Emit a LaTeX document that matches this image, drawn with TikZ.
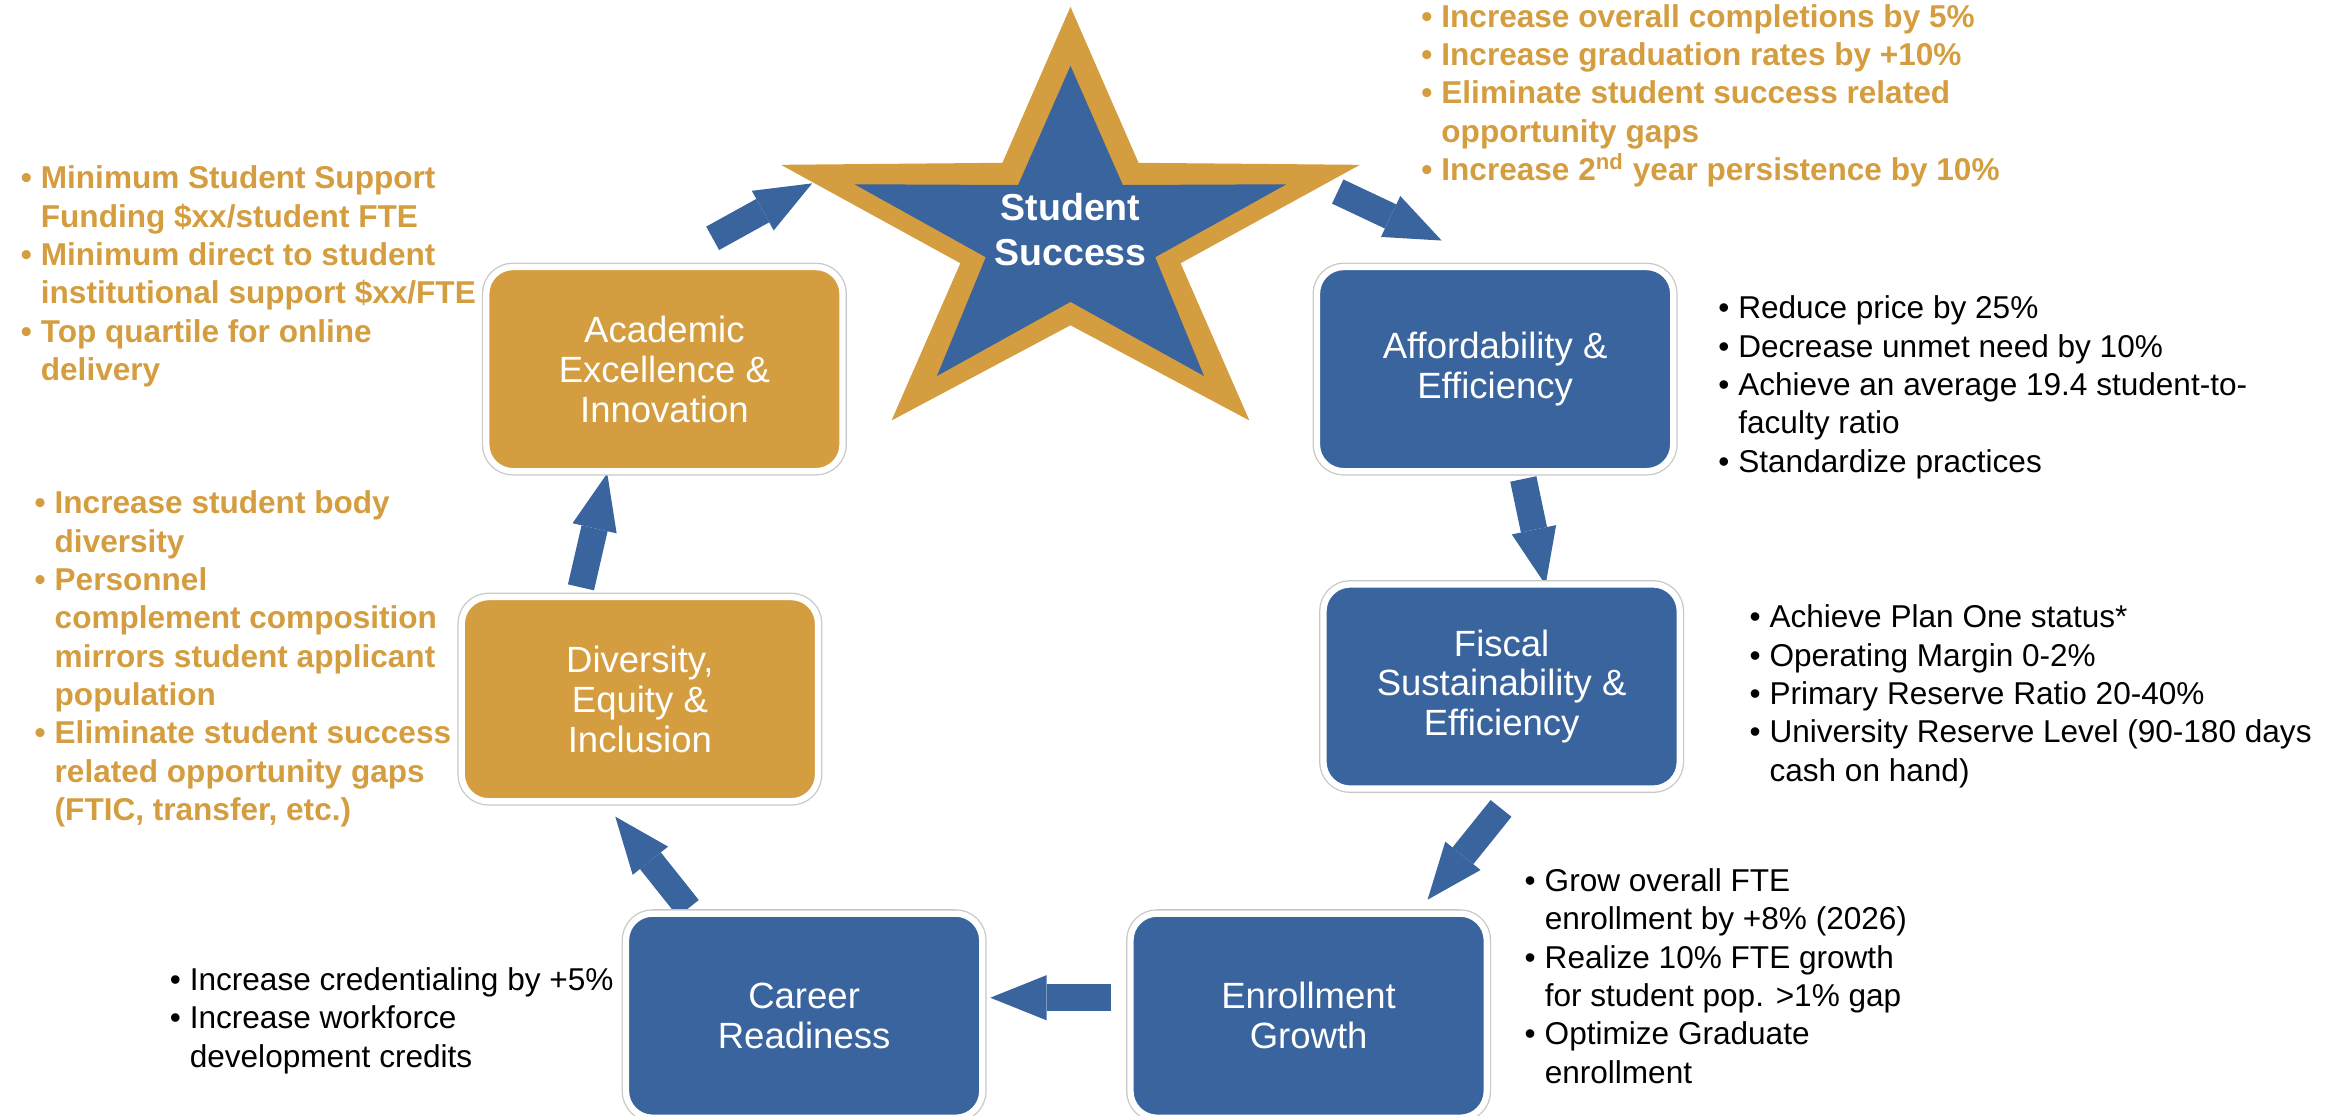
\documentclass[tikz,border=0pt]{standalone}
\usepackage{fontspec}
\setmainfont{Liberation Sans}
\usetikzlibrary{arrows.meta,calc,positioning}
\definecolor{blue-color}{RGB}{58,100,158}
\definecolor{gold-color}{RGB}{212,157,64}
\definecolor{edge-color}{RGB}{200,200,200}
\newcommand\itm{\makebox[0.27cm][l]{\textbullet}}
\newcommand\cnt{\hspace*{0.27cm}}
\tikzset{
  pillar/.style={rectangle, rounded corners=0.36cm, minimum width=4.8cm,
    minimum height=2.75cm, draw=white, line width=2.4pt,
    preaction={draw=edge-color, line width=3.4pt}, text=white, align=center,
    font=\fontsize{14}{15.3}\selectfont},
  bluebox/.style={pillar, fill=blue-color},
  goldbox/.style={pillar, fill=gold-color},
  goals/.style={anchor=north west, inner sep=0, align=left,
    font=\fontsize{12.1}{14.7}\selectfont},
  goldgoals/.style={goals, text=gold-color, font=\fontsize{12.1}{14.7}\selectfont\bfseries}
}

\begin{document}
\begin{tikzpicture}[x=0.02cm, y=-0.02cm,
    flow/.style={draw=blue-color, line width=0.36cm,
      -{Triangle[length=0.76cm, width=0.61cm, line width=0pt]}}]
  \useasboundingbox (0,0) rectangle (1568,751);
  \coordinate (from-acad) at (480,160.5);   \coordinate (to-ss) at (547,123.5);
  \coordinate (from-ss) at (901,129);       \coordinate (to-aff) at (971,162);
  \coordinate (from-aff) at (1026,322.6);   \coordinate (to-fis) at (1041,394);
  \coordinate (from-fis) at (1011,544.5);   \coordinate (to-enr) at (961.5,606);
  \coordinate (from-enr) at (748,672);      \coordinate (to-car) at (667,672);
  \coordinate (from-car) at (463.6,611.8);  \coordinate (to-div) at (414.4,550);
  \coordinate (from-div) at (391.3,395.6);  \coordinate (to-acad) at (409,318.8);
  \draw[flow] (from-acad) -- (to-ss);
  \draw[flow] (from-ss) -- (to-aff);
  \draw[flow] (from-aff) -- (to-fis);
  \draw[flow] (from-fis) -- (to-enr);
  \draw[flow] (from-enr) -- (to-car);
  \draw[flow] (from-car) -- (to-div);
  \draw[flow] (from-div) -- (to-acad);
  \fill[gold-color, shift={(721,158.6)}] plot[variable=\k, samples at={0,...,9}]
    ({(205-127*mod(\k,2))*cos(270+36*\k)}, {(154-93.5*mod(\k,2))*sin(270+36*\k)}) -- cycle;
  \fill[blue-color, shift={(721,159.8)}] plot[variable=\k, samples at={0,...,9}]
    ({(153-93*mod(\k,2))*cos(270+36*\k)}, {(115.5-72*mod(\k,2))*sin(270+36*\k)}) -- cycle;
  \node[text=white, align=center, font=\fontsize{14.4}{17.2}\selectfont\bfseries] (ss) at (721,154.5) {Student\\Success};
  \node[goldbox] (acad) at (447.5,248.6) {Academic\\Excellence \&\\Innovation};
  \node[bluebox] (aff) at (1007,248.6) {Affordability \&\\Efficiency};
  \node[bluebox] (fis) at (1011.4,462.4) {Fiscal\\Sustainability \&\\Efficiency};
  \node[bluebox] (enr) at (881.4,684.1) {Enrollment\\Growth};
  \node[bluebox] (car) at (541.6,684.1) {Career\\Readiness};
  \node[goldbox] (div) at (431,470.9) {Diversity,\\Equity \&\\Inclusion};
  \node[goldgoals] (ss-goals) at (957,2.6) {\itm Increase overall completions by 5\%\\
    \itm Increase graduation rates by +10\%\\
    \itm Eliminate student success related\\
    \cnt opportunity gaps\\
    \itm Increase 2\textsuperscript{nd} year persistence by 10\%};
  \node[goldgoals] (acad-goals) at (13.7,111.4) {\itm Minimum Student Support\\
    \cnt Funding \$xx/student FTE\\
    \itm Minimum direct to student\\
    \cnt institutional support \$xx/FTE\\
    \itm Top quartile for online\\
    \cnt delivery};
  \node[goldgoals] (div-goals) at (23,330.3) {\itm Increase student body\\
    \cnt diversity\\
    \itm Personnel\\
    \cnt complement composition\\
    \cnt mirrors student applicant\\
    \cnt population\\
    \itm Eliminate student success\\
    \cnt related opportunity gaps\\
    \cnt (FTIC, transfer, etc.)};
  \node[goals] (aff-goals) at (1157,199) {\itm Reduce price by 25\%\\
    \itm Decrease unmet need by 10\%\\
    \itm Achieve an average 19.4 student-to-\\
    \cnt faculty ratio\\
    \itm Standardize practices};
  \node[goals] (fis-goals) at (1178,407.1) {\itm Achieve Plan One status*\\
    \itm Operating Margin 0-2\%\\
    \itm Primary Reserve Ratio 20-40\%\\
    \itm University Reserve Level (90-180 days\\
    \cnt cash on hand)};
  \node[goals] (enr-goals) at (1026.6,584.7) {\itm Grow overall FTE\\
    \cnt enrollment by +8\% (2026)\\
    \itm Realize 10\% FTE growth\\
    \cnt for student pop. >1\% gap\\
    \itm Optimize Graduate\\
    \cnt enrollment};
  \node[goals] (car-goals) at (114,651.4) {\itm Increase credentialing by +5\%\\
    \itm Increase workforce\\
    \cnt development credits};
\end{tikzpicture}
\end{document}
